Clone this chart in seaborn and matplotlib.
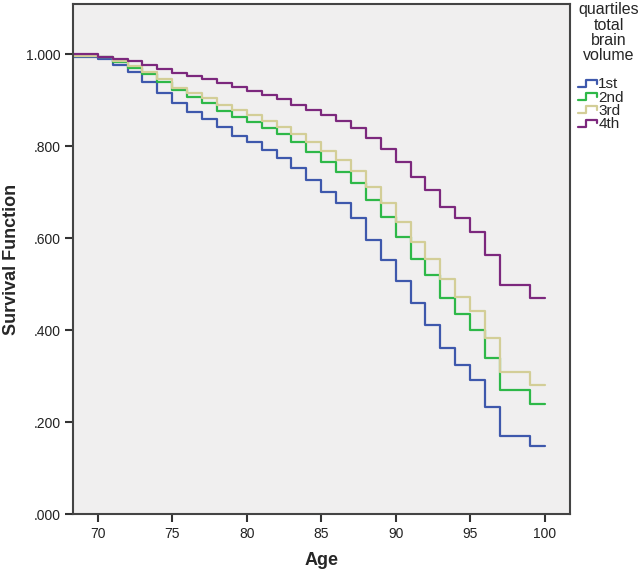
from matplotlib import pyplot as plt
from matplotlib.lines import Line2D
from matplotlib.legend_handler import HandlerBase
import seaborn as sns
import numpy as np
import pandas as pd

# survival estimates per quartile (value after the drop at each age)
ages = [68, 70, 71, 72, 73, 74, 75, 76, 77, 78, 79, 80, 81, 82, 83, 84,
        85, 86, 87, 88, 89, 90, 91, 92, 93, 94, 95, 96, 97, 98, 99, 100]
surv_1st = [.993, .989, .977, .961, .940, .916, .893, .875, .859, .841, .823, .810,
            .792, .774, .752, .726, .701, .676, .643, .596, .552, .507, .458, .412,
            .361, .325, .291, .233, .169, .169, .147, .147]
surv_2nd = [.996, .993, .982, .969, .956, .940, .922, .906, .893, .877, .864, .853,
            .839, .826, .808, .788, .766, .744, .719, .683, .646, .603, .555, .520,
            .469, .434, .400, .340, .269, .269, .240, .240]
surv_3rd = [.997, .994, .985, .975, .962, .946, .926, .915, .904, .890, .879, .868,
            .855, .842, .826, .808, .790, .770, .746, .712, .676, .636, .592, .555,
            .510, .472, .441, .382, .309, .309, .280, .280]
surv_4th = [1.0, .993, .989, .984, .977, .967, .959, .953, .946, .937, .929, .919,
            .911, .902, .889, .879, .868, .855, .839, .817, .793, .766, .732, .705,
            .668, .643, .614, .563, .497, .497, .470, .470]
groups = ["1st", "2nd", "3rd", "4th"]
colors = ["#3E58AC", "#2EB848", "#D3CE97", "#7C287D"]
ytick_vals = [0, .2, .4, .6, .8, 1.0]
ytick_labels = [".000", ".200", ".400", ".600", ".800", "1.000"]
xtick_vals = [70, 75, 80, 85, 90, 95, 100]

frames = []
for g, s in zip(groups, [surv_1st, surv_2nd, surv_3rd, surv_4th]):
	frames.append(pd.DataFrame({"Age": ages, "surv": s, "grp": g}))
df = pd.concat(frames, ignore_index=True)


class StepHandler(HandlerBase):
	# little step shaped legend icon like SPSS draws
	def create_artists(self, legend, orig_handle, xdescent, ydescent, width, height, fontsize, trans):
		x0 = -xdescent
		xs = [x0, x0 + 0.4 * width, x0 + 0.4 * width, x0 + width, x0 + width]
		ys = [0.15 * height, 0.15 * height, 0.8 * height, 0.8 * height, 0.45 * height]
		ln = Line2D(xs, ys, color=orig_handle.get_color(), lw=orig_handle.get_linewidth())
		ln.set_transform(trans)
		return [ln]


sns.set_style("white")
plt.rcParams['font.family'] = ['Liberation Sans', 'DejaVu Sans']

fig = plt.figure(figsize=(6.4, 5.74), dpi=100)
ax = fig.add_axes([73 / 640, 1 - 514 / 574, (570 - 73) / 640, (514 - 4) / 574])
ax.set_facecolor("#F0EFEF")

sns.lineplot(data=df, x="Age", y="surv", hue="grp", palette=colors, ax=ax,
             drawstyle="steps-post", linewidth=1.6, estimator=None, legend=True)

ax.set_xlim(68.34, 101.7)
ax.set_ylim(0, 1.109)
ax.set_xticks(xtick_vals)
ax.set_yticks(ytick_vals)
ax.set_yticklabels(ytick_labels)
ax.tick_params(axis="both", direction="out", length=6, width=1.5, color="#333333",
               labelsize=10, left=True, bottom=True, pad=3)
for lab in ax.get_xticklabels() + ax.get_yticklabels():
	lab.set_color("#222222")
for sp in ax.spines.values():
	sp.set_color("#444444")
	sp.set_linewidth(1.5)

ax.set_xlabel("Age", fontsize=13, fontweight="bold", labelpad=8)
ax.set_ylabel("Survival Function", fontsize=13, fontweight="bold", labelpad=4)

handles, labels = ax.get_legend_handles_labels()
leg = ax.legend(handles, labels, title="quartiles\ntotal\nbrain\nvolume\n ",
                loc="upper left", bbox_to_anchor=(576 / 640, 1.0), bbox_transform=fig.transFigure,
                frameon=False, fontsize=11, title_fontsize=11.5, handlelength=1.2,
                handletextpad=0.1, labelspacing=-0.05, borderpad=0.15, borderaxespad=0,
                handler_map={Line2D: StepHandler()})
leg.get_title().set_linespacing(1.02)
leg.get_title().set_multialignment("center")
leg._legend_box.align = "left"

plt.savefig("out.png", dpi=100)
